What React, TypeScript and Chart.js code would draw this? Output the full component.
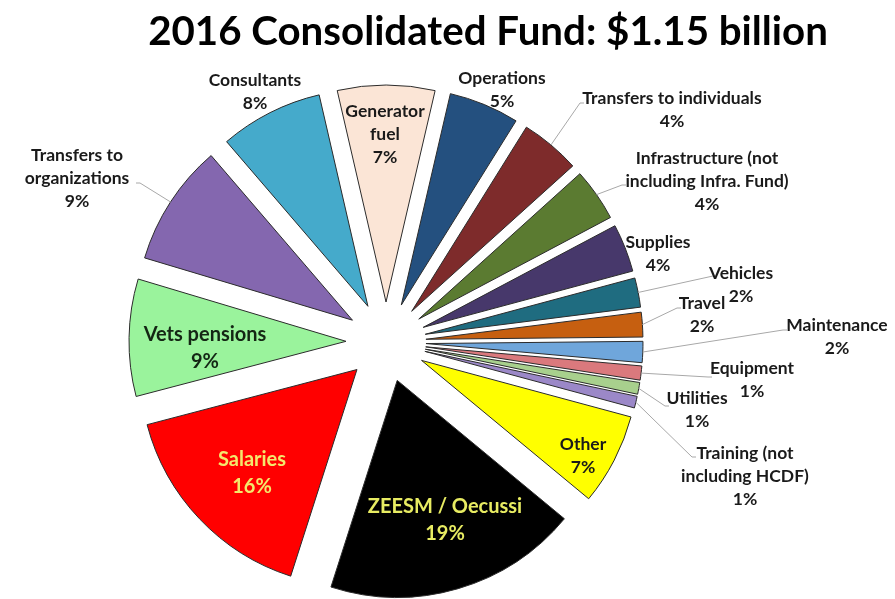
import React, { useEffect, useRef } from "react";
import { Chart, registerables } from "chart.js";

Chart.register(...registerables);

// ---- Data ($ millions, 2016 Consolidated Fund, clockwise from the top) ----
const categories: string[] = [
  "Generator fuel",
  "Operations",
  "Transfers to individuals",
  "Infrastructure (not including Infra. Fund)",
  "Supplies",
  "Vehicles",
  "Travel",
  "Maintenance",
  "Equipment",
  "Utilities",
  "Training (not including HCDF)",
  "Other",
  "ZEESM / Oecussi",
  "Salaries",
  "Vets pensions",
  "Transfers to organizations",
  "Consultants",
];
const values: number[] = [83, 60, 51, 45, 41, 25, 21, 18, 12, 10, 10, 78, 217, 183, 100, 104, 88];

const labelLines: string[][] = [
  ["Generator", "fuel"],
  ["Operations"],
  ["Transfers to individuals"],
  ["Infrastructure (not", "including Infra. Fund)"],
  ["Supplies"],
  ["Vehicles"],
  ["Travel"],
  ["Maintenance"],
  ["Equipment"],
  ["Utilities"],
  ["Training (not", "including HCDF)"],
  ["Other"],
  ["ZEESM / Oecussi"],
  ["Salaries"],
  ["Vets pensions"],
  ["Transfers to", "organizations"],
  ["Consultants"],
];

const titleText = "2016 Consolidated Fund: $1.15 billion";

// ---- Styles ----
const sliceColors = [
  "#FBE5D6", "#24507F", "#7E2B2B", "#5B7B31", "#47386B", "#1F6C80",
  "#C65F10", "#6FA6DB", "#DA797D", "#A8D08D", "#9B88C8", "#FFFF00",
  "#000000", "#FF0000", "#9AF39C", "#8467AF", "#45AACB",
];
const textColors = [
  "#1a1a1a", "#1a1a1a", "#1a1a1a", "#1a1a1a", "#1a1a1a", "#1a1a1a",
  "#1a1a1a", "#1a1a1a", "#1a1a1a", "#1a1a1a", "#1a1a1a", "#1a1a1a",
  "#E8EC62", "#F4E86C", "#142614", "#1a1a1a", "#1a1a1a",
];
const bigLabel = [false, false, false, false, false, false, false, false, false, false, false, false, true, true, true, false, false];
// label first-line centre, relative to the pie centre
const labelOffsets: [number, number][] = [
  [-1, -231], [116, -264], [286, -244], [321, -184], [272, -100], [355, -69],
  [316, -39], [451, -17], [366, 26], [311, 56], [359, 111], [197, 102],
  [59, 165], [-134, 118], [-181, -7], [-309, -187], [-131, -262],
];
// leader line end (near label), relative to the pie centre
const leaderEnds: ([number, number] | null)[] = [
  null, null, [194, -239], [236, -157], null, [327, -66],
  [291, -34], [397, -12], [322, 35], [279, 64], [306, 115], null,
  null, null, null, [-246, -159], null,
];

const EXPLODE = 40;
const RADIUS = 217;
const FONT = "Lato, 'Open Sans', sans-serif";

const explodePlugin = {
  id: "explodeSlices",
  beforeDatasetDraw(chart: any, args: any) {
    const ctx = chart.ctx;
    args.meta.data.forEach((arc: any) => {
      const mid = (arc.startAngle + arc.endAngle) / 2;
      ctx.save();
      ctx.translate(Math.cos(mid) * EXPLODE, Math.sin(mid) * EXPLODE);
      arc.draw(ctx);
      ctx.restore();
    });
    return false;
  },
};

const labelPlugin = {
  id: "sliceLabels",
  afterDraw(chart: any) {
    const ctx = chart.ctx;
    const meta = chart.getDatasetMeta(0);
    const arcs = meta.data;
    if (!arcs.length) return;
    const cx = arcs[0].x;
    const cy = arcs[0].y;
    const total = values.reduce((a, b) => a + b, 0);

    // title
    ctx.save();
    ctx.fillStyle = "#000";
    let size = 40;
    ctx.font = `bold ${size}px ${FONT}`;
    const w = ctx.measureText(titleText).width;
    size = size * 680 / w;
    ctx.font = `bold ${size}px ${FONT}`;
    ctx.textAlign = "center";
    ctx.textBaseline = "alphabetic";
    ctx.fillText(titleText, 488, 45);
    ctx.restore();

    // leader lines
    ctx.save();
    ctx.strokeStyle = "#A8A8A8";
    ctx.lineWidth = 1;
    arcs.forEach((arc: any, i: number) => {
      const end = leaderEnds[i];
      if (!end) return;
      const mid = (arc.startAngle + arc.endAngle) / 2;
      const r = arc.outerRadius + EXPLODE;
      const sx = cx + Math.cos(mid) * r;
      const sy = cy + Math.sin(mid) * r;
      const ex = cx + end[0];
      const ey = cy + end[1];
      ctx.beginPath();
      ctx.moveTo(sx, sy);
      ctx.lineTo(ex, ey);
      ctx.lineTo(ex + (end[0] > 0 ? 4 : -4), ey);
      ctx.stroke();
    });
    ctx.restore();

    // labels
    ctx.save();
    ctx.textAlign = "center";
    ctx.textBaseline = "middle";
    arcs.forEach((arc: any, i: number) => {
      const big = bigLabel[i];
      const fs = big ? 20 : 17.5;
      const lh = big ? 27 : 23;
      ctx.font = `bold ${fs}px ${FONT}`;
      ctx.fillStyle = textColors[i];
      const pct = Math.round((values[i] / total) * 100) + "%";
      const lines = [...labelLines[i], pct];
      const [dx, dy] = labelOffsets[i];
      lines.forEach((t, k) => {
        ctx.fillText(t, cx + dx, cy + dy + k * lh);
      });
    });
    ctx.restore();
  },
};

export default function App() {
  const ref = useRef<HTMLCanvasElement | null>(null);

  useEffect(() => {
    if (!ref.current) return;
    const chart = new Chart(ref.current, {
      type: "pie",
      data: {
        labels: categories,
        datasets: [
          {
            data: values,
            backgroundColor: sliceColors,
            borderColor: "#2b2b2b",
            borderWidth: 1,
            radius: RADIUS,
            clip: false,
          } as any,
        ],
      },
      options: {
        responsive: false,
        animation: false,
        devicePixelRatio: 1,
        events: [],
        rotation: -13,
        layout: { padding: { left: 0, right: 123, top: 85, bottom: 0 } },
        plugins: {
          legend: { display: false },
          title: { display: false },
          tooltip: { enabled: false },
        },
      } as any,
      plugins: [explodePlugin, labelPlugin],
    });
    return () => chart.destroy();
  }, []);

  return (
    <div style={{ position: "absolute", left: 0, top: 0, width: 895, height: 599, background: "#fff" }}>
      <canvas ref={ref} width={895} height={599} style={{ width: 895, height: 599, display: "block" }} />
    </div>
  );
}
